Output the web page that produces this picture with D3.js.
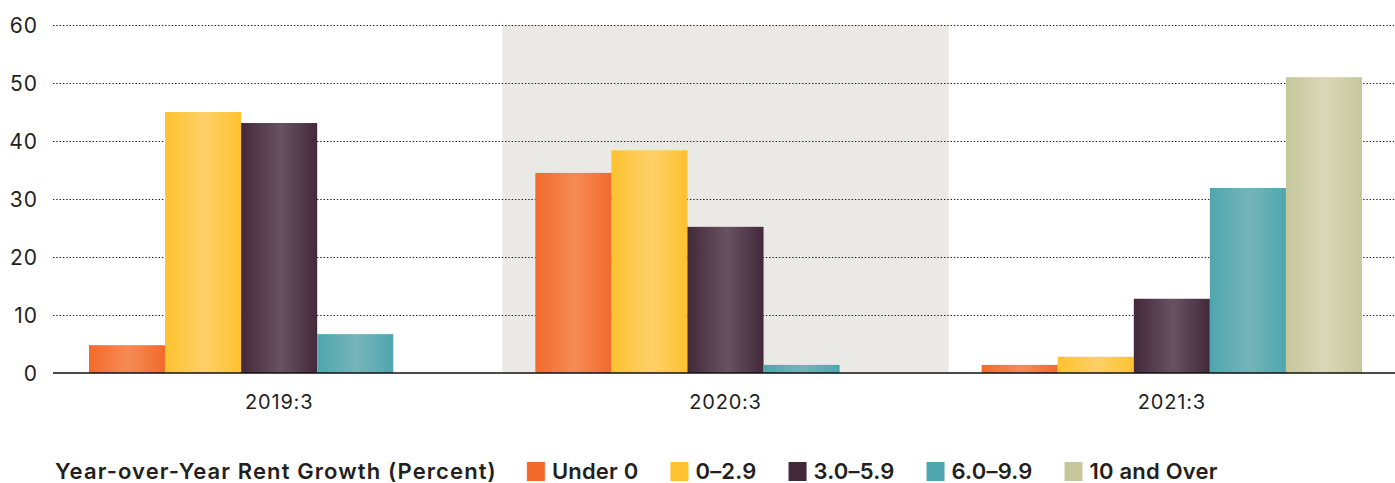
<!DOCTYPE html>
<html><head><meta charset="utf-8">
<script src="https://cdn.jsdelivr.net/npm/d3@7"></script>
<style>body{margin:0;background:#fff} svg{display:block}</style>
</head><body><svg id="c" width="1395" height="483"></svg>
<script>
const categories = ["2019:3", "2020:3", "2021:3"];
const seriesNames = ["Under 0", "0–2.9", "3.0–5.9", "6.0–9.9", "10 and Over"];
const under0  = [4.8, 34.5, 1.4];
const r0to29  = [45.0, 38.4, 2.8];
const r30to59 = [43.1, 25.2, 12.8];
const r60to99 = [6.7, 1.4, 31.9];
const r10plus = [0, 0, 51.0];
const yTicks = [0, 10, 20, 30, 40, 50, 60];
const legendTitle = "Year-over-Year Rent Growth (Percent)";
const shadedCategory = "2020:3";
const seriesEdge = ["#f26a2c", "#fec22f", "#43293b", "#4fa6ae", "#c5c79b"];
const seriesMid  = ["#f58b55", "#fed068", "#67535f", "#76b4ba", "#d9d8b8"];
const seriesSwatch = ["#f26a2c", "#fec22f", "#43293b", "#4fa6ae", "#c5c79b"];

const seriesValues = [under0, r0to29, r30to59, r60to99, r10plus];
const txt = "#231f20";
const font = "Inter, 'Open Sans', sans-serif";

const svg = d3.select("#c");
const W = 1395;
const x0 = d3.scaleBand().domain(categories).range([56, W]).padding(0);
const groupPad = 33;
const x1 = d3.scaleBand().domain(seriesNames).range([groupPad, x0.bandwidth() - groupPad]).padding(0);
const y = d3.scaleLinear().domain([0, 60]).range([373, 25]);

const defs = svg.append("defs");
seriesNames.forEach((s, i) => {
  const g = defs.append("linearGradient").attr("id", "g" + i)
    .attr("x1", "0%").attr("x2", "100%").attr("y1", "0%").attr("y2", "0%");
  g.append("stop").attr("offset", "0%").attr("stop-color", seriesEdge[i]);
  g.append("stop").attr("offset", "52%").attr("stop-color", seriesMid[i]);
  g.append("stop").attr("offset", "100%").attr("stop-color", seriesEdge[i]);
});

// shaded band
svg.append("rect")
  .attr("x", x0(shadedCategory)).attr("width", x0.bandwidth())
  .attr("y", y(60)).attr("height", y(0) - y(60))
  .attr("fill", "#eae9e5");

// y axis labels
const yAxis = d3.axisLeft(y).tickValues(yTicks).tickSize(0).tickPadding(0);
const gy = svg.append("g").attr("transform", "translate(38,0)").call(yAxis);
gy.select(".domain").remove();
gy.selectAll("text").attr("font-family", font).attr("font-size", 21).attr("letter-spacing", 1)
  .attr("fill", txt).attr("dy", "0.36em");

// gridlines
svg.append("g").selectAll("line").data(yTicks.filter(d => d > 0)).join("line")
  .attr("x1", 53).attr("x2", W)
  .attr("y1", d => Math.round(y(d)) + 0.5).attr("y2", d => Math.round(y(d)) + 0.5)
  .attr("stroke", "#222").attr("stroke-width", 1.2).attr("stroke-dasharray", "1.4 1.9");

// bars
const rows = [];
categories.forEach((c, ci) => seriesNames.forEach((s, si) => rows.push({c, s, si, v: seriesValues[si][ci]})));
svg.append("g").selectAll("rect").data(rows.filter(d => d.v > 0)).join("rect")
  .attr("x", d => x0(d.c) + x1(d.s))
  .attr("width", x1.bandwidth())
  .attr("y", d => y(d.v))
  .attr("height", d => y(0) - y(d.v))
  .attr("fill", d => `url(#g${d.si})`);

// baseline
svg.append("line").attr("x1", 53).attr("x2", W).attr("y1", y(0)).attr("y2", y(0))
  .attr("stroke", "#111").attr("stroke-width", 1.6);

// x axis labels
const xAxis = d3.axisBottom(x0).tickSize(0).tickPadding(0);
const gx = svg.append("g").attr("transform", "translate(0,395)").call(xAxis);
gx.select(".domain").remove();
gx.selectAll("text").attr("font-family", font).attr("font-size", 20).attr("letter-spacing", 0.8)
  .attr("fill", txt).attr("dy", "0.71em");

// legend
const lg = svg.append("g").attr("font-family", font).attr("font-weight", 600).attr("fill", txt)
  .attr("font-size", 22);
const title = lg.append("text").attr("x", 55).attr("y", 479).attr("letter-spacing", 1.1).text(legendTitle);
let cx = 55 + title.node().getComputedTextLength() + 30;
seriesNames.forEach((s, i) => {
  lg.append("rect").attr("x", cx).attr("y", 462).attr("width", 18).attr("height", 19).attr("fill", seriesSwatch[i]);
  const t = lg.append("text").attr("x", cx + 25).attr("y", 479).attr("letter-spacing", 0.2).text(s);
  cx = cx + 25 + t.node().getComputedTextLength() + 32;
});
</script></body></html>
